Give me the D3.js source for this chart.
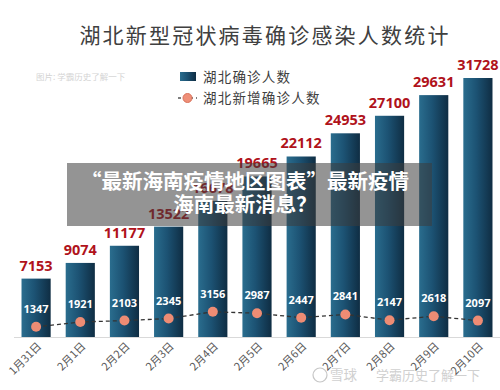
<!DOCTYPE html>
<html><head><meta charset="utf-8">
<script src="https://cdn.jsdelivr.net/npm/d3@7"></script>
<style>body{margin:0;background:#fff}svg{display:block}</style>
</head><body>
<script>
const categories = ["1月31日","2月1日","2月2日","2月3日","2月4日","2月5日","2月6日","2月7日","2月8日","2月9日","2月10日"];
const confirmed = [7153,9074,11177,13522,16678,19665,22112,24953,27100,29631,31728];
const newCases = [1347,1921,2103,2345,3156,2987,2447,2841,2147,2618,2097];
const titleText = "湖北新型冠状病毒确诊感染人数统计";
const legendLabels = ["湖北确诊人数","湖北新增确诊人数"];
const overlayLines = ["“最新海南疫情地区图表”最新疫情","海南最新消息？"];

const W=500,H=390;
const svg=d3.select("body").append("svg").attr("width",W).attr("height",H);
const font="'Noto Sans CJK SC','Noto Sans',sans-serif";
const defs=svg.append("defs");
const g=defs.append("linearGradient").attr("id","barg").attr("x1","0").attr("x2","1").attr("y1","0").attr("y2","0");
g.append("stop").attr("offset","0%").attr("stop-color","#2a6d8e");
g.append("stop").attr("offset","45%").attr("stop-color","#1c5273");
g.append("stop").attr("offset","100%").attr("stop-color","#0f2d43");

const x=d3.scaleBand().domain(categories).range([14,500]).paddingInner(0.34).paddingOuter(0.17);
const y=d3.scaleLinear().domain([0,31728]).range([337,78]);
const y2=d3.scaleLinear().domain([0,31200]).range([338,79]);

// title
svg.append("text").attr("x",265).attr("y",43).attr("text-anchor","middle")
 .attr("font-family",font).attr("font-size",21).attr("letter-spacing",2.2).attr("fill","#404040").text(titleText);

// watermark top-left
svg.append("text").attr("x",36).attr("y",80).attr("font-family",font).attr("font-size",8.5).attr("fill","#d4d4d4").text("图片: 学霸历史了解一下");

// legend
svg.append("rect").attr("x",180).attr("y",72).attr("width",16).attr("height",9).attr("fill","url(#barg)");
svg.append("text").attr("x",203).attr("y",82).attr("font-family",font).attr("font-size",13.5).attr("letter-spacing",1.2).attr("fill","#404040").text(legendLabels[0]);
svg.append("line").attr("x1",178).attr("x2",197).attr("y1",98).attr("y2",98).attr("stroke","#555").attr("stroke-width",1.5).attr("stroke-dasharray","3,3");
svg.append("circle").attr("cx",187.5).attr("cy",98).attr("r",4.5).attr("fill","#ef8f78").attr("stroke","#d9735c");
svg.append("text").attr("x",203).attr("y",103).attr("font-family",font).attr("font-size",13.5).attr("letter-spacing",1.2).attr("fill","#404040").text(legendLabels[1]);

// baseline
svg.append("line").attr("x1",14).attr("x2",500).attr("y1",y(0)+0.5).attr("y2",y(0)+0.5).attr("stroke","#d9d9d9");

// bars
svg.selectAll("rect.bar").data(confirmed).join("rect").attr("class","bar")
 .attr("x",(d,i)=>x(categories[i])).attr("width",x.bandwidth())
 .attr("y",d=>y(d)).attr("height",d=>y(0)-y(d)).attr("fill","url(#barg)");
svg.selectAll("text.bl").data(confirmed).join("text").attr("class","bl")
 .attr("x",(d,i)=>x(categories[i])+x.bandwidth()/2).attr("y",d=>y(d)-8)
 .attr("text-anchor","middle").attr("font-family","'Open Sans','DejaVu Sans',sans-serif").attr("font-weight","bold")
 .attr("font-size",14.5).attr("fill","#b0121b").text(d=>d);

// line
const cx=(i)=>x(categories[i])+x.bandwidth()/2;
svg.append("path").datum(newCases).attr("fill","none").attr("stroke","#333").attr("stroke-width",1.3).attr("stroke-dasharray","4,3")
 .attr("d",d3.line().x((d,i)=>cx(i)).y(d=>y2(d)));
svg.selectAll("circle.pt").data(newCases).join("circle").attr("class","pt")
 .attr("cx",(d,i)=>cx(i)).attr("cy",d=>y2(d)).attr("r",5).attr("fill","#ee8c74");
svg.selectAll("text.nl").data(newCases).join("text").attr("class","nl")
 .attr("x",(d,i)=>cx(i)).attr("y",d=>y2(d)-14)
 .attr("text-anchor","middle").attr("font-family","'Open Sans','DejaVu Sans',sans-serif").attr("font-weight","bold")
 .attr("font-size",11).attr("fill","#ffffff").text(d=>d);

// x labels
svg.selectAll("text.xl").data(categories).join("text").attr("class","xl")
 .attr("transform",(d,i)=>`translate(${cx(i)+6},${347}) rotate(-45)`)
 .attr("text-anchor","end").attr("font-family",font).attr("font-size",11).attr("fill","#595959").text(d=>d);

// bottom watermark
const wm=svg.append("g").attr("opacity",0.55);
wm.append("circle").attr("cx",320).attr("cy",375).attr("r",7).attr("fill","none").attr("stroke","#999").attr("stroke-width",1.2);
wm.append("text").attr("x",330).attr("y",380).attr("font-family",font).attr("font-size",13.5).attr("fill","#aaa").text("雪球");
wm.append("text").attr("x",376).attr("y",380).attr("font-family",font).attr("font-size",13).attr("fill","#aaa").text("学霸历史了解一下");

// overlay
svg.append("rect").attr("x",67).attr("y",163).attr("width",365).attr("height",63).attr("fill","#3c3c3c").attr("opacity",0.55);
overlayLines.forEach((t,i)=>{
 svg.append("text").attr("x",245).attr("y",189+i*23).attr("text-anchor","middle").attr("font-family",font)
  .attr("font-weight","bold").attr("font-size",20.5).attr("fill","#fff").text(t);
});
</script>
</body></html>
